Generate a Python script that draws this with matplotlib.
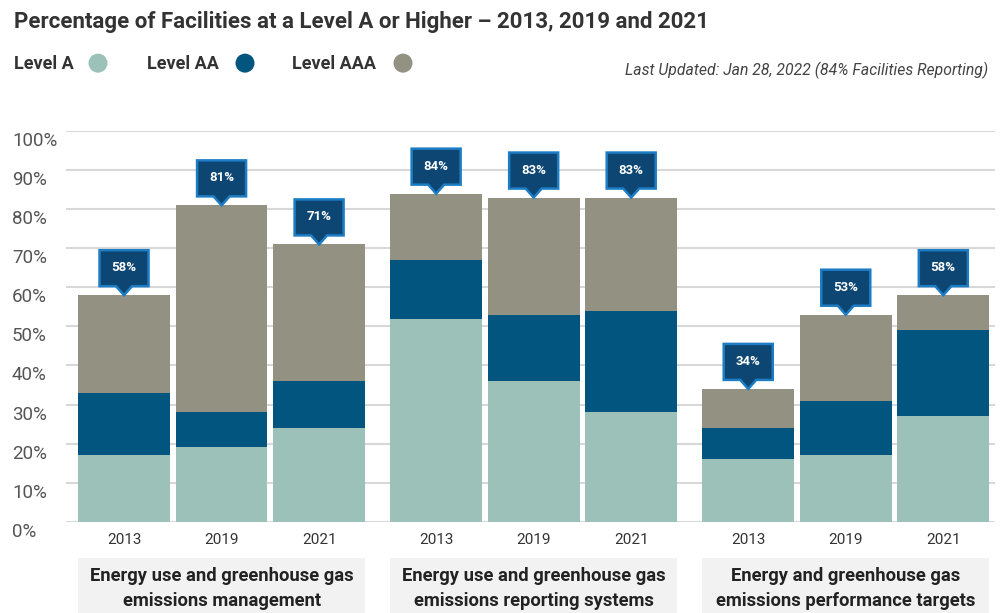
import matplotlib
matplotlib.use("Agg")
import matplotlib.pyplot as plt
from matplotlib.patches import Polygon, Rectangle, Ellipse
from matplotlib.transforms import ScaledTranslation, blended_transform_factory

plt.rcParams['font.family'] = ['Roboto', 'DejaVu Sans']

groups = ["Energy use and greenhouse gas\nemissions management",
          "Energy use and greenhouse gas\nemissions reporting systems",
          "Energy and greenhouse gas\nemissions performance targets"]
years = ["2013", "2019", "2021"]
levels = ["Level A", "Level AA", "Level AAA"]

# segment heights (%) per group, per year
level_a = [[17, 19, 24], [52, 36, 28], [16, 17, 27]]
level_aa = [[16, 9, 12], [15, 17, 26], [8, 14, 22]]
level_aaa = [[25, 53, 35], [17, 30, 29], [10, 22, 9]]

colors = ["#9bc1b8", "#02557f", "#939282"]
box_fill = "#0d4672"
box_edge = "#1c7cc4"

fig = plt.figure(figsize=(10, 6.13), dpi=100)
ax = fig.add_axes([0.066, 0.149, 0.929, 0.637])

group_step = 3.2
bar_w = 0.94
xs, tick_lbls = [], []
for g in range(len(groups)):
    for j, yr in enumerate(years):
        x = g * group_step + j
        a, aa, aaa = level_a[g][j], level_aa[g][j], level_aaa[g][j]
        ax.bar(x, a, bar_w, color=colors[0], zorder=3)
        ax.bar(x, aa, bar_w, bottom=a, color=colors[1], zorder=3)
        ax.bar(x, aaa, bar_w, bottom=a + aa, color=colors[2], zorder=3)
        total = a + aa + aaa

        # callout box with pointer, sized in pixels above the bar top
        off = fig.dpi_scale_trans + ScaledTranslation(x, total, ax.transData)
        px = [(0, 0), (-8, 9), (-24.5, 9), (-24.5, 45), (24.5, 45), (24.5, 9), (8, 9)]
        verts = [(u / 100, v / 100) for u, v in px]
        ax.add_patch(Polygon(verts, closed=True, transform=off, facecolor=box_fill,
                             edgecolor=box_edge, linewidth=1.8, zorder=5, clip_on=False))
        ax.text(0, 0.275, f"{total}%", transform=off, ha="center", va="center",
                color="white", fontsize=9.5, fontweight="bold", zorder=6)
        xs.append(x)
        tick_lbls.append(yr)

ax.set_xlim(-0.595, 8.93)
ax.set_ylim(0, 100)
ax.set_xticks(xs)
ax.set_xticklabels(tick_lbls, fontsize=11, color="#333333")
ax.tick_params(axis="x", length=0, pad=8)
ax.set_yticks(range(0, 101, 10))
ax.set_yticklabels([])
ax.tick_params(axis="y", length=0)
ax.grid(axis="y", color="#d8d8d8", linewidth=1.5, zorder=0)
ax.set_axisbelow(True)
for s in ax.spines.values():
    s.set_visible(False)

# y labels sit left-aligned near the figure edge, a bit below each gridline
ytrans = blended_transform_factory(fig.transFigure, ax.transData) + \
    ScaledTranslation(0, -0.1, fig.dpi_scale_trans)
for v in range(0, 101, 10):
    ax.text(0.012, v, f"{v}%", transform=ytrans, ha="left", va="center",
            fontsize=13.5, color="#555555", clip_on=False)

# group names on shaded panels below the years
btrans = blended_transform_factory(ax.transData, fig.transFigure)
for g, name in enumerate(groups):
    x0 = g * group_step - bar_w / 2
    x1 = g * group_step + 2 + bar_w / 2
    fig.add_artist(Rectangle((x0, 0), x1 - x0, 0.09, transform=btrans,
                             facecolor="#f2f2f2", edgecolor="none"))
    fig.text((x0 + x1) / 2, 0.04, name, transform=btrans, ha="center", va="center",
             fontsize=13.2, fontweight="bold", color="#222222", linespacing=1.5)

fig.text(0.014, 0.964, "Percentage of Facilities at a Level A or Higher \u2013 2013, 2019 and 2021",
         ha="left", va="center", fontsize=16, fontweight="bold", color="#333333")

# legend row
leg_x = [0.014, 0.147, 0.292]
dot_x = [0.098, 0.245, 0.403]
for lbl, lx, dx, c in zip(levels, leg_x, dot_x, colors):
    fig.text(lx, 0.895, lbl, ha="left", va="center", fontsize=13,
             fontweight="bold", color="#333333")
    fig.add_artist(Ellipse((dx, 0.897), 0.019, 0.019 * 1000 / 613,
                           transform=fig.transFigure, facecolor=c, edgecolor="none"))

fig.text(0.988, 0.885, "Last Updated: Jan 28, 2022 (84% Facilities Reporting)",
         ha="right", va="center", fontsize=11.3, style="italic", color="#444444")

fig.savefig("out.png", dpi=100, facecolor="white")
